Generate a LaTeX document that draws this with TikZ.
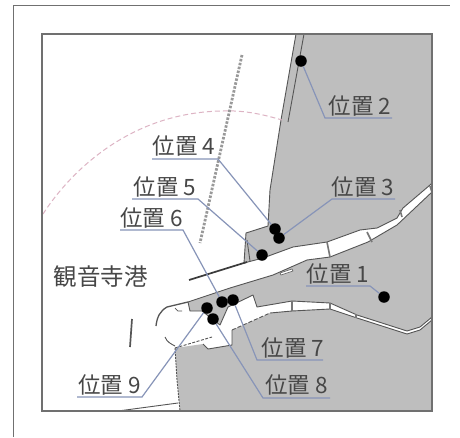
\documentclass[tikz,border=0pt]{standalone}
\usepackage{fontspec}
\setmainfont{Noto Sans CJK JP}
\begin{document}
\begin{tikzpicture}[x=1pt,y=-1pt,
  land/.style={fill=landgray,draw=coast,line width=0.9pt,line join=round},
  coastline/.style={draw=coast,line width=0.9pt},
  bar/.style={draw=coast!80,line width=1.6pt},
  dot/.style={circle,fill=black,inner sep=0pt,minimum size=11.5pt},
  leader/.style={draw=leadblue,line width=1.2pt},
  lab/.style={inner sep=0pt,text=labtext,font=\fontsize{22.5}{24}\selectfont,anchor=base},
  ]
\definecolor{landgray}{HTML}{BEBEBE}
\definecolor{coast}{HTML}{555555}
\definecolor{leadblue}{HTML}{8794B8}
\definecolor{labtext}{HTML}{474747}
\definecolor{arcpink}{HTML}{DDB4C4}
\definecolor{framegray}{HTML}{707070}
\useasboundingbox (0,0) rectangle (460,437);
\fill[white] (0,0) rectangle (460,437);
\draw[framegray,line width=1pt] (13.5,437) -- (13.5,5.5) -- (450,5.5);
% land north of the channel
\draw[land] (296,34) -- (281,120) -- (270,190) -- (268,226) -- (246,233) -- (244,263)
  -- (263,258) -- (293,247) -- (327,242) -- (360,230) -- (377,228) -- (397,218)
  -- (403,208) -- (430,185) -- (432,183) -- (432,34) -- cycle;
\draw[coastline] (304,34) -- (288,122);
\draw[coastline] (247,240) -- (250,261);
% mole and land between channel and river
\draw[land] (188,302) -- (230,288) -- (273,275) -- (307,260) -- (330,257) -- (368,242)
  -- (397,225) -- (432,192) -- (432,317) -- (420,327) -- (407,331) -- (357,315)
  -- (330,303) -- (292,301) -- (257,307) -- (253,295) -- (228,307) -- (220,325)
  -- (202,311) -- (190,311) -- cycle;
% south land
\fill[landgray] (175,348) -- (203,344) -- (208,349) -- (232,345) -- (232,330) -- (270,313)
  -- (292,311) -- (330,309) -- (357,318) -- (407,334) -- (420,330) -- (432,320)
  -- (432,411) -- (180,411) -- (177,380) -- cycle;
\draw[coastline,dash pattern=on 3pt off 1.5pt] (175,348) -- (212,337);
\draw[coastline,dash pattern=on 4pt off 2pt] (232,330) -- (270,313);
\draw[coastline] (203,344) -- (208,349) -- (232,345) -- (232,330);
\draw[coastline] (270,313) -- (292,311) -- (330,309) -- (357,318) -- (407,334) -- (420,330) -- (432,320);
\draw[coastline,dash pattern=on 2pt off 1pt] (175,348) -- (177,380) -- (180,411);
\draw[coastline] (165,337) .. controls (167,342) and (171,344) .. (175,346);
% bars across the waterways
\draw[bar] (327,242) -- (330,257);
\draw[bar] (367,232) -- (372,242);
\draw[bar] (400,210) -- (402,217);
\draw[bar] (430,186) -- (432,192);
\draw[bar] (292,301) -- (292,311);
\draw[bar] (330,303) -- (330,309);
\draw[bar] (356,314) -- (356,318);
\draw[coastline,fill=white,line width=0.5pt] (280,273) -- (292,269) -- (293,271) -- (281,275) -- cycle;
% breakwaters and moles
\draw[coast!70!black,line width=1.7pt] (189,280) -- (247,262);
\draw[coast,line width=1.7pt] (132,319) -- (130,347);
\draw[coast,line width=1.3pt] (156,326) .. controls (157,317) and (160,311) .. (167,307) -- (188,302);
\draw[coast,line width=0.7pt] (175,308) -- (178,311) -- (182,311);
\draw[coastline] (118,411) -- (178,403);
\draw[coast!60,line width=2.8pt,dash pattern=on 2.5pt off 1.5pt] (242,55) -- (200,243);
\draw[arcpink,line width=1pt,dash pattern=on 5pt off 3pt] (43,214) .. controls (70,172) and (130,112) .. (223,111)
  .. controls (245,110) and (265,115) .. (282,120);
% frame
\draw[framegray,line width=1.1pt] (42,34) rectangle (432,411);
% text
\node[lab,font=\fontsize{23.5}{25}\selectfont] (port) at (100.5,285) {観音寺港};
\node[lab] (t1) at (338,282) {位置 1};
\node[lab] (t2) at (360,114) {位置 2};
\node[lab] (t3) at (363,195) {位置 3};
\node[lab] (t4) at (184,154) {位置 4};
\node[lab] (t5) at (165,195) {位置 5};
\node[lab] (t6) at (151.5,226) {位置 6};
\node[lab] (t7) at (293,356) {位置 7};
\node[lab] (t8) at (296.5,393) {位置 8};
\node[lab] (t9) at (109.5,393) {位置 9};
% markers
\node[dot] (d1) at (384,297) {};
\node[dot] (d2) at (301,61) {};
\node[dot] (d3) at (279,238) {};
\node[dot] (d4) at (275,229) {};
\node[dot] (d5) at (262,255) {};
\node[dot] (d6) at (222,302) {};
\node[dot] (d7) at (233,300) {};
\node[dot] (d8) at (213,319) {};
\node[dot] (d9) at (207,308) {};
% leader ends
\coordinate (a1) at (370,286); \coordinate (b1) at (306,286);
\coordinate (a2) at (325,118); \coordinate (b2) at (392,118);
\coordinate (a3) at (332,199); \coordinate (b3) at (395,199);
\coordinate (a4) at (218,159); \coordinate (b4) at (152,159);
\coordinate (a5) at (198,199); \coordinate (b5) at (132,199);
\coordinate (a6) at (183,230); \coordinate (b6) at (120,230);
\coordinate (a7) at (257,360); \coordinate (b7) at (323,360);
\coordinate (a8) at (263,398); \coordinate (b8) at (330,398);
\coordinate (a9) at (142,397); \coordinate (b9) at (77,397);
\foreach \i in {1,...,9}{\draw[leader] (d\i) -- (a\i) -- (b\i);}
\end{tikzpicture}
\end{document}
